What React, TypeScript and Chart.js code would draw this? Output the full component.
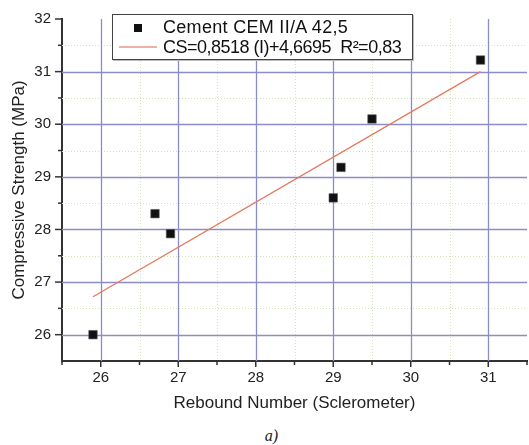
import React, { useEffect, useRef } from "react";
import { Chart, registerables } from "chart.js";

Chart.register(...registerables);

const pointsX = [25.9, 26.7, 26.9, 29.0, 29.1, 29.5, 30.9];
const pointsY = [26.0, 28.3, 27.92, 28.6, 29.18, 30.1, 31.22];
const fitX = [25.9, 30.9];
const fitY = [26.72, 31.0];
const xTicks = [26, 27, 28, 29, 30, 31];
const yTicks = [26, 27, 28, 29, 30, 31, 32];
const xMinor = [25.5, 26.5, 27.5, 28.5, 29.5, 30.5, 31.5];
const yMinor = [26.5, 27.5, 28.5, 29.5, 30.5, 31.5];
const xGrid = [26, 27, 28, 29, 30, 31];
const yGrid = [26, 27, 28, 29, 30, 31];
const seriesLabel = "Cement CEM II/A 42,5";
const fitLabel = "CS=0,8518 (I)+4,6695  R²=0,83";
const xTitle = "Rebound Number (Sclerometer)";
const yTitle = "Compressive Strength (MPa)";

const FONT = "'Liberation Sans', Arial, sans-serif";

const gridPlugin = {
  id: "customGrid",
  beforeDatasetsDraw(chart: any) {
    const { ctx, chartArea, scales } = chart;
    const xs = scales.x;
    const ys = scales.y;
    ctx.save();
    ctx.strokeStyle = "#d3e3b8";
    ctx.lineWidth = 1;
    ctx.setLineDash([1, 2]);
    xMinor.forEach((v) => {
      const px = Math.round(xs.getPixelForValue(v)) + 0.5;
      if (px > chartArea.left + 2 && px < chartArea.right - 1) {
        ctx.beginPath();
        ctx.moveTo(px, chartArea.top);
        ctx.lineTo(px, chartArea.bottom);
        ctx.stroke();
      }
    });
    yMinor.forEach((v) => {
      const py = Math.round(ys.getPixelForValue(v)) + 0.5;
      ctx.beginPath();
      ctx.moveTo(chartArea.left, py);
      ctx.lineTo(chartArea.right, py);
      ctx.stroke();
    });
    ctx.setLineDash([]);
    ctx.strokeStyle = "#8c8cc8";
    ctx.lineWidth = 1.3;
    xGrid.forEach((v) => {
      const px = Math.round(xs.getPixelForValue(v)) + 0.5;
      ctx.beginPath();
      ctx.moveTo(px, chartArea.top);
      ctx.lineTo(px, chartArea.bottom);
      ctx.stroke();
    });
    yGrid.forEach((v) => {
      const py = Math.round(ys.getPixelForValue(v)) + 0.5;
      ctx.beginPath();
      ctx.moveTo(chartArea.left, py);
      ctx.lineTo(chartArea.right, py);
      ctx.stroke();
    });
    ctx.restore();
  },
  afterDraw(chart: any) {
    const { ctx, chartArea, scales } = chart;
    const xs = scales.x;
    const ys = scales.y;
    ctx.save();
    ctx.strokeStyle = "#333";
    ctx.lineWidth = 1.5;
    const b = chartArea.bottom;
    const l = chartArea.left;
    xTicks.forEach((v) => {
      const px = xs.getPixelForValue(v);
      ctx.beginPath();
      ctx.moveTo(px, b);
      ctx.lineTo(px, b + 6);
      ctx.stroke();
    });
    xMinor.forEach((v) => {
      const px = xs.getPixelForValue(v);
      ctx.beginPath();
      ctx.moveTo(px, b);
      ctx.lineTo(px, b + 4);
      ctx.stroke();
    });
    yTicks.forEach((v) => {
      const py = ys.getPixelForValue(v);
      ctx.beginPath();
      ctx.moveTo(l, py);
      ctx.lineTo(l - 7, py);
      ctx.stroke();
    });
    yMinor.forEach((v) => {
      const py = ys.getPixelForValue(v);
      ctx.beginPath();
      ctx.moveTo(l, py);
      ctx.lineTo(l - 4, py);
      ctx.stroke();
    });
    ctx.restore();
  },
};

export default function App() {
  const ref = useRef<HTMLCanvasElement | null>(null);
  useEffect(() => {
    if (!ref.current) return;
    const chart = new Chart(ref.current, {
      type: "scatter",
      data: {
        datasets: [
          {
            label: seriesLabel,
            data: pointsX.map((x, i) => ({ x, y: pointsY[i] })),
            pointStyle: "rect",
            pointRadius: 6,
            backgroundColor: "#111",
            borderColor: "rgba(90,90,90,0.6)",
            borderWidth: 1,
            showLine: false,
          },
          {
            label: fitLabel,
            data: fitX.map((x, i) => ({ x, y: fitY[i] })),
            showLine: true,
            pointRadius: 0,
            borderColor: "#e5785c",
            borderWidth: 1.3,
            backgroundColor: "#e5785c",
          },
        ],
      },
      options: {
        animation: false,
        responsive: false,
        maintainAspectRatio: false,
        layout: { autoPadding: false, padding: { top: 19, right: 2, left: 0, bottom: 0 } },
        plugins: { legend: { display: false }, tooltip: { enabled: false } },
        scales: {
          x: {
            type: "linear",
            min: 25.5,
            max: 31.5,
            afterBuildTicks: (s: any) => {
              s.ticks = xTicks.map((v) => ({ value: v }));
            },
            afterFit: (s: any) => {
              s.height = 54;
              s.paddingLeft = 0;
              s.paddingRight = 0;
            },
            grid: { display: false, drawTicks: false },
            border: { display: true, color: "#333", width: 2 },
            ticks: {
              padding: 8,
              color: "#222",
              font: { family: FONT, size: 15 },
              maxRotation: 0,
            },
            title: {
              display: true,
              text: xTitle,
              color: "#222",
              font: { family: FONT, size: 17 },
              padding: { top: 0, bottom: 1 },
            },
          },
          y: {
            type: "linear",
            min: 25.5,
            max: 32,
            afterBuildTicks: (s: any) => {
              s.ticks = yTicks.map((v) => ({ value: v }));
            },
            afterFit: (s: any) => {
              s.width = 62;
              s.paddingTop = 0;
              s.paddingBottom = 0;
            },
            grid: { display: false, drawTicks: false },
            border: { display: true, color: "#333", width: 2 },
            ticks: {
              padding: 11,
              color: "#222",
              font: { family: FONT, size: 15 },
            },
            title: {
              display: true,
              text: yTitle,
              color: "#222",
              font: { family: FONT, size: 17 },
              padding: { top: 9, bottom: 0 },
            },
          },
        },
      },
      plugins: [gridPlugin],
    } as any);
    return () => chart.destroy();
  }, []);

  return (
    <div style={{ position: "absolute", left: 0, top: 0, width: 529, height: 445, background: "#fff" }}>
      <canvas ref={ref} width={529} height={415} style={{ position: "absolute", left: 0, top: 0 }} />
      <div
        style={{
          position: "absolute",
          left: 112,
          top: 14,
          width: 299,
          height: 44,
          border: "1.5px solid #444",
          background: "#fff",
          boxShadow: "1px 1px 0 #bbb",
          fontFamily: FONT,
          color: "#111",
        }}
      >
        <div style={{ position: "absolute", left: 21, top: 9, width: 8, height: 8, background: "#111" }} />
        <div style={{ position: "absolute", left: 50, top: 1, fontSize: 18, lineHeight: "22px", letterSpacing: "0.3px", whiteSpace: "pre" }}>
          {seriesLabel}
        </div>
        <div style={{ position: "absolute", left: 6, top: 31, width: 38, height: 1.5, background: "#e9b2a2" }} />
        <div style={{ position: "absolute", left: 50, top: 21, fontSize: 18, lineHeight: "22px", letterSpacing: "-0.5px", whiteSpace: "pre" }}>
          {fitLabel}
        </div>
      </div>
      <div
        style={{
          position: "absolute",
          left: 0,
          width: 529,
          top: 427,
          textAlign: "center",
          paddingLeft: 14,
          boxSizing: "border-box",
          fontFamily: "'Liberation Serif', 'Times New Roman', serif",
          fontStyle: "italic",
          fontSize: 16,
          color: "#222",
        }}
      >
        a)
      </div>
    </div>
  );
}
